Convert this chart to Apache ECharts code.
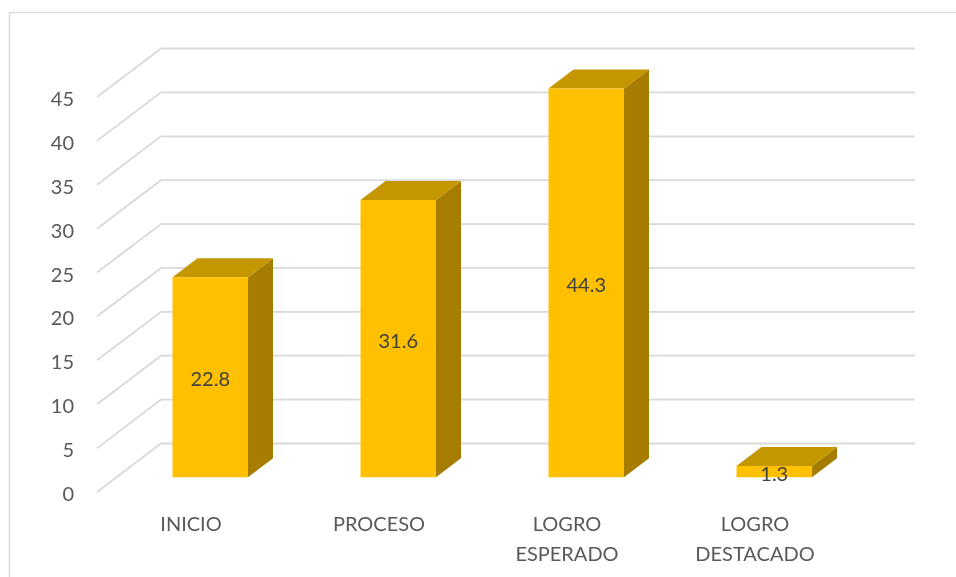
<!DOCTYPE html>
<html>
<head>
<meta charset="utf-8">
<style>html,body{margin:0;padding:0;background:#fff}#c{width:956px;height:577px}</style>
<script src="https://cdn.jsdelivr.net/npm/echarts@6/dist/echarts.min.js"></script>
</head>
<body>
<div id="c"></div>
<script>
const categories = ['INICIO', 'PROCESO', 'LOGRO\nESPERADO', 'LOGRO\nDESTACADO'];
const values = [22.8, 31.6, 44.3, 1.3];
const ticks = [0, 5, 10, 15, 20, 25, 30, 35, 40, 45];

const WALL_DX = 64, WALL_DY = 48.5;      // floor depth of the 3D box
const BAR_DX = 19.25, BAR_DY = 14.7;     // bar position inside the floor
const BAR_W = 75.5, SIDE_DX = 25, SIDE_DY = 19;

const chart = echarts.init(document.getElementById('c'), null, {renderer: 'canvas'});
chart.setOption({
  animation: false,
  backgroundColor: '#ffffff',
  textStyle: {fontFamily: 'Lato'},
  graphic: [{
    type: 'rect', silent: true, z: 0,
    shape: {x: 9.5, y: 12.5, width: 1000, height: 700},
    style: {fill: 'none', stroke: '#d9d9d9', lineWidth: 1.5}
  }],
  grid: {left: 97, right: 107, top: 97, bottom: 85},
  xAxis: {
    type: 'category', data: categories,
    axisLine: {show: false}, axisTick: {show: false}, splitLine: {show: false},
    axisLabel: {interval: 0, color: '#595959', fontSize: 20, fontFamily: 'Lato', lineHeight: 29.5, margin: 18, verticalAlign: 'top'}
  },
  yAxis: {
    type: 'value', min: 0, max: 45, interval: 5,
    axisLine: {show: false}, axisTick: {show: false}, splitLine: {show: false},
    axisLabel: {color: '#595959', fontSize: 20, fontFamily: 'Lato', margin: 23, verticalAlign: 'top', lineHeight: 5}
  },
  series: [{
    type: 'custom', name: 'grid', z: 1, silent: true,
    data: ticks.map(t => [t]),
    encode: {y: 0},
    renderItem: (params, api) => {
      const cs = params.coordSys;
      const y = api.coord([0, api.value(0)])[1];
      return {
        type: 'polyline', silent: true,
        shape: {points: [[cs.x, y], [cs.x + WALL_DX, y - WALL_DY], [cs.x + cs.width + WALL_DX + 2, y - WALL_DY]]},
        style: {fill: 'none', stroke: '#d9d9d9', lineWidth: 1.8}
      };
    }
  }, {
    type: 'custom', name: 'values', z: 2,
    data: values.map((v, i) => [i, v]),
    encode: {x: 0, y: 1},
    renderItem: (params, api) => {
      const i = api.value(0), v = api.value(1);
      const top = api.coord([i, v]), base = api.coord([i, 0]);
      const l = top[0] + BAR_DX - BAR_W / 2, r = l + BAR_W;
      const t = top[1] - BAR_DY, b = base[1] - BAR_DY;
      return {
        type: 'group',
        children: [
          {type: 'polygon', shape: {points: [[r, t], [r + SIDE_DX, t - SIDE_DY], [r + SIDE_DX, b - SIDE_DY], [r, b]]}, style: {fill: '#A67D00'}},
          {type: 'polygon', shape: {points: [[l, t], [l + SIDE_DX, t - SIDE_DY], [r + SIDE_DX, t - SIDE_DY], [r, t]]}, style: {fill: '#C49600'}},
          {type: 'rect', shape: {x: l, y: t, width: BAR_W, height: b - t}, style: {fill: '#FFC000'}},
          {type: 'text', z2: 10, style: {x: (l + r) / 2, y: (t + b) / 2 + 2.5, text: String(v), fill: '#404040', font: '20px Lato', align: 'center', verticalAlign: 'middle'}}
        ]
      };
    }
  }]
});
</script>
</body>
</html>
